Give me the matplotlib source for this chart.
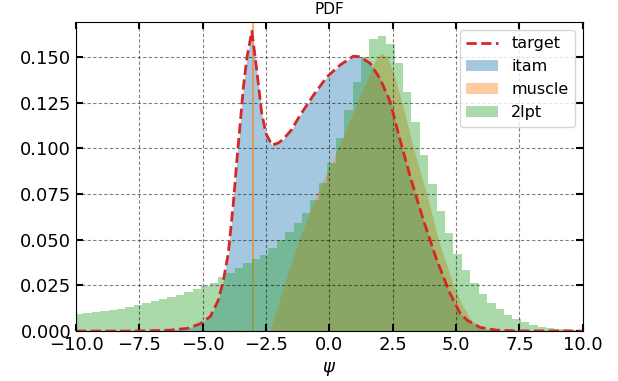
import numpy as np
import matplotlib
matplotlib.use("Agg")
import matplotlib.pyplot as plt

# Reference density ("target") sampled on psi
target_x = [-10.0, -8.0, -7.0, -6.3, -5.6, -5.1, -4.7, -4.38, -4.18, -3.99, -3.79,
            -3.66, -3.53, -3.39, -3.25, -3.06, -2.95, -2.87, -2.67, -2.5, -2.27,
            -2.0, -1.82, -1.5, -1.16, -0.63, -0.10, 0.42, 0.95, 1.21, 1.61, 2.0,
            2.40, 2.79, 3.19, 3.71, 4.24, 4.76, 5.16, 5.45, 5.95, 6.6, 7.5, 10.0]
target_y = [0.0, 0.0, 0.0002, 0.0005, 0.0015, 0.004, 0.008, 0.017, 0.028, 0.0425, 0.070,
            0.092, 0.112, 0.134, 0.150, 0.164, 0.152, 0.143, 0.119, 0.108, 0.1017,
            0.103, 0.105, 0.110, 0.118, 0.129, 0.139, 0.1455, 0.1504, 0.150, 0.1464, 0.138,
            0.1254, 0.1045, 0.0844, 0.0607, 0.0388, 0.0206, 0.0097, 0.0058, 0.002, 0.0005, 0.0001, 0.0]

# itam density (fine histogram, shown as a filled outline)
itam_y = [0.0, 0.0, 0.0002, 0.0005, 0.0015, 0.004, 0.008, 0.017, 0.028, 0.0425, 0.070,
          0.092, 0.112, 0.134, 0.150, 0.163, 0.152, 0.143, 0.119, 0.108, 0.1017,
          0.103, 0.105, 0.110, 0.118, 0.129, 0.139, 0.1455, 0.1504, 0.150, 0.1464, 0.138,
          0.1254, 0.1045, 0.0844, 0.0607, 0.0388, 0.0206, 0.0097, 0.0058, 0.002, 0.0005, 0.0001, 0.0]

# muscle density (fine histogram) plus its clipped mass at psi = -3
muscle_x = [-2.35, -1.8, -1.2, -0.5, 0.35, 1.1, 1.5, 1.8, 2.05, 2.3, 2.6, 2.86,
            3.32, 3.84, 4.30, 4.90, 5.25, 5.6, 6.1, 6.5]
muscle_y = [0.0, 0.025, 0.050, 0.075, 0.100, 0.125, 0.138, 0.148, 0.152, 0.150, 0.138, 0.125,
            0.100, 0.075, 0.050, 0.025, 0.014, 0.006, 0.001, 0.0]
muscle_spike_x = -3.02
muscle_spike_h = 0.6

# 2lpt histogram
lpt_first_edge = -10.043
lpt_bin_width = 0.332
lpt_heights = [0.0091, 0.0097, 0.0102, 0.0109, 0.0115, 0.0122, 0.0133, 0.0142, 0.0155, 0.0164,
               0.0175, 0.0186, 0.0199, 0.0213, 0.0230, 0.0248, 0.0264, 0.0295, 0.0320, 0.0345,
               0.0370, 0.0393, 0.0418, 0.0456, 0.0498, 0.0543, 0.0589, 0.0647, 0.0717, 0.0808,
               0.0917, 0.1054, 0.1209, 0.1364, 0.1500, 0.1595, 0.1615, 0.1570, 0.1464, 0.1310,
               0.1143, 0.0965, 0.0806, 0.0658, 0.0534, 0.0424, 0.0332, 0.0261, 0.0202, 0.0155,
               0.0119, 0.0089, 0.0067, 0.0049, 0.0035, 0.0024, 0.0016, 0.0012, 0.0009, 0.0006,
               0.0004, 0.0002]

x_ticks = [-10.0, -7.5, -5.0, -2.5, 0.0, 2.5, 5.0, 7.5, 10.0]
y_ticks = [0.000, 0.025, 0.050, 0.075, 0.100, 0.125, 0.150]

fig = plt.figure(figsize=(6.18, 3.81), dpi=100)
ax = fig.add_axes([0.123, 0.131, 0.820, 0.811])

h_itam = ax.fill_between(target_x, itam_y, color="C0", alpha=0.4, lw=0, label="itam")
h_muscle = ax.fill_between(muscle_x, muscle_y, color="C1", alpha=0.4, lw=0, label="muscle")
ax.bar([muscle_spike_x], [muscle_spike_h], width=0.05, color="C1", alpha=0.6, lw=0)
edges = lpt_first_edge + lpt_bin_width * np.arange(len(lpt_heights) + 1)
h_lpt = ax.stairs(lpt_heights, edges, fill=True, color="C2", alpha=0.4, lw=0, label="2lpt")
h_target, = ax.plot(target_x, target_y, "--", color="C3", lw=2, label="target")

ax.set_xlim(-10, 10)
ax.set_ylim(0, 0.169)
ax.set_xticks(x_ticks)
ax.set_yticks(y_ticks)
ax.tick_params(direction="in", top=True, right=True, length=5, width=1.5, labelsize=13)
ax.grid(True, ls=(0, (3, 2)), color="k", alpha=0.5, lw=0.8)
ax.set_xlabel(r"$\psi$", fontsize=13)
ax.set_title("PDF", fontsize=11)
ax.legend([h_target, h_itam, h_muscle, h_lpt], ["target", "itam", "muscle", "2lpt"],
          loc="upper right", fontsize=11.5)

fig.savefig("out.png", dpi=100)
